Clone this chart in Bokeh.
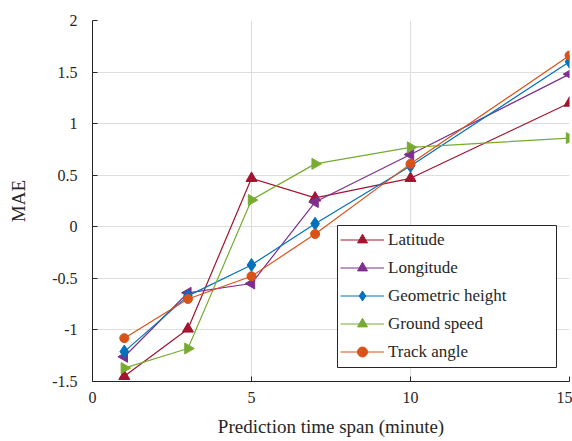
import math
from bokeh.plotting import figure
from bokeh.models import FixedTicker, Range1d, Legend, LegendItem, ColumnDataSource, BoxAnnotation
from bokeh.embed import file_html
from bokeh.resources import INLINE

x_minutes = [1, 3, 5, 7, 10, 15]
latitude = [-1.45, -0.99, 0.47, 0.28, 0.47, 1.20]
longitude = [-1.26, -0.64, -0.55, 0.24, 0.70, 1.48]
geometric_height = [-1.21, -0.67, -0.37, 0.03, 0.59, 1.60]
ground_speed = [-1.37, -1.18, 0.26, 0.61, 0.77, 0.86]
track_angle = [-1.08, -0.70, -0.48, -0.07, 0.61, 1.66]

x_ticks = [0, 5, 10, 15]
y_ticks = [-1.5, -1, -0.5, 0, 0.5, 1, 1.5, 2]
y_tick_labels = ["-1.5", "-1", "-0.5", "0", "0.5", "1", "1.5", "2"]

FONT = "Liberation Serif"

p = figure(width=572, height=441, output_backend="svg", toolbar_location=None,
           x_range=Range1d(0, 15), y_range=Range1d(-1.5, 2),
           min_border_left=92, min_border_right=3, min_border_top=20, min_border_bottom=60)
p.outline_line_color = None
p.background_fill_color = "white"
p.border_fill_color = "white"

for ax in (p.xaxis[0], p.yaxis[0]):
    ax.axis_line_color = "#262626"
    ax.major_tick_line_color = "#262626"
    ax.major_tick_in = 5
    ax.major_tick_out = 0
    ax.minor_tick_line_color = None
    ax.major_label_text_font = FONT
    ax.major_label_text_font_size = "16px"
    ax.major_label_text_color = "#262626"
    ax.axis_label_text_font = FONT
    ax.axis_label_text_font_size = "19px"
    ax.axis_label_text_font_style = "normal"
    ax.axis_label_text_color = "#262626"

p.xaxis.ticker = FixedTicker(ticks=x_ticks)
p.yaxis.ticker = FixedTicker(ticks=y_ticks)
p.yaxis.major_label_overrides = {v: s for v, s in zip(y_ticks, y_tick_labels)}
p.xaxis.axis_label = "Prediction time span (minute)"
p.yaxis.axis_label = "MAE"
p.yaxis.major_label_standoff = 15
p.yaxis.axis_label_standoff = 20
p.xaxis.major_label_standoff = 10
p.xaxis.axis_label_standoff = 10

p.xgrid.grid_line_color = "#dedede"
p.ygrid.grid_line_color = "#dedede"

series = [
    ("Latitude", latitude, "#A2142F", "triangle", 0.0, 11),
    ("Longitude", longitude, "#7E2F8E", "triangle", math.pi / 2, 11),
    ("Geometric height", geometric_height, "#0072BD", "diamond", 0.0, 13),
    ("Ground speed", ground_speed, "#77AC30", "triangle", -math.pi / 2, 11),
    ("Track angle", track_angle, "#D95319", "circle", 0.0, 9),
]

items = []
for name, ys, color, marker, ang, size in series:
    src = ColumnDataSource(dict(x=x_minutes, y=ys))
    l = p.line("x", "y", source=src, line_color=color, line_width=1.2)
    s = p.scatter("x", "y", source=src, marker=marker, angle=ang, size=size,
                  fill_color=color, line_color=color)
    items.append(LegendItem(label=name, renderers=[l, s]))

# legend frame (screen units, relative to the plot frame)
LEG_X, LEG_Y, LEG_W, LEG_H = 245, 14, 219, 142
frame_box = BoxAnnotation(left=LEG_X, right=LEG_X + LEG_W, bottom=LEG_Y, top=LEG_Y + LEG_H,
                          left_units="screen", right_units="screen",
                          bottom_units="screen", top_units="screen",
                          fill_color="white", fill_alpha=1.0,
                          line_color="#262626", line_alpha=1.0, line_width=1)
p.add_layout(frame_box)

legend = Legend(items=items, location=(LEG_X + 3, LEG_Y + 3))
legend.label_text_font = FONT
legend.label_text_font_size = "17px"
legend.label_text_color = "#262626"
legend.glyph_width = 44
legend.glyph_height = 25
legend.label_height = 25
legend.spacing = 3
legend.padding = 3
legend.margin = 0
legend.label_standoff = 4
legend.border_line_color = None
legend.background_fill_alpha = 0
p.add_layout(legend, "center")

open("out.html", "w").write(file_html(p, INLINE))
